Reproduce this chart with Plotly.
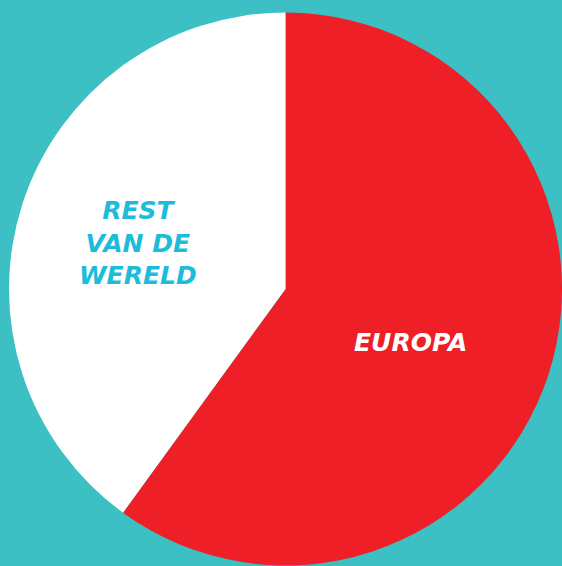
import plotly.graph_objects as go

labels = ["EUROPA", "REST<br>VAN DE<br>WERELD"]
values = [60, 40]
slice_colors = ["#EE1F26", "#FFFFFF"]
text_colors = ["#FFFFFF", "#1CBCDA"]
label_pos = [(0.731, 0.394), (0.246, 0.571)]

fig = go.Figure(go.Pie(
    labels=labels,
    values=values,
    sort=False,
    direction="clockwise",
    rotation=0,
    marker=dict(colors=slice_colors, line=dict(width=0)),
    textinfo="none",
    domain=dict(x=[9/562, 1], y=[0, 554/566]),
    hoverinfo="skip",
    showlegend=False,
))

for lab, col, (px, py) in zip(labels, text_colors, label_pos):
    fig.add_annotation(
        text=lab, x=px, y=py, xref="paper", yref="paper",
        showarrow=False, xanchor="center", yanchor="middle", align="center",
        font=dict(color=col, size=25, family="DejaVu Sans", weight="bold", style="italic"),
    )

fig.update_layout(
    width=562, height=566,
    margin=dict(l=0, r=0, t=0, b=0),
    paper_bgcolor="#3CC0C3",
    plot_bgcolor="#3CC0C3",
)

fig.write_html(
    "out.html",
    config={"displayModeBar": False},
    post_script="document.body.style.margin='0';document.body.style.background='#3CC0C3';",
)
